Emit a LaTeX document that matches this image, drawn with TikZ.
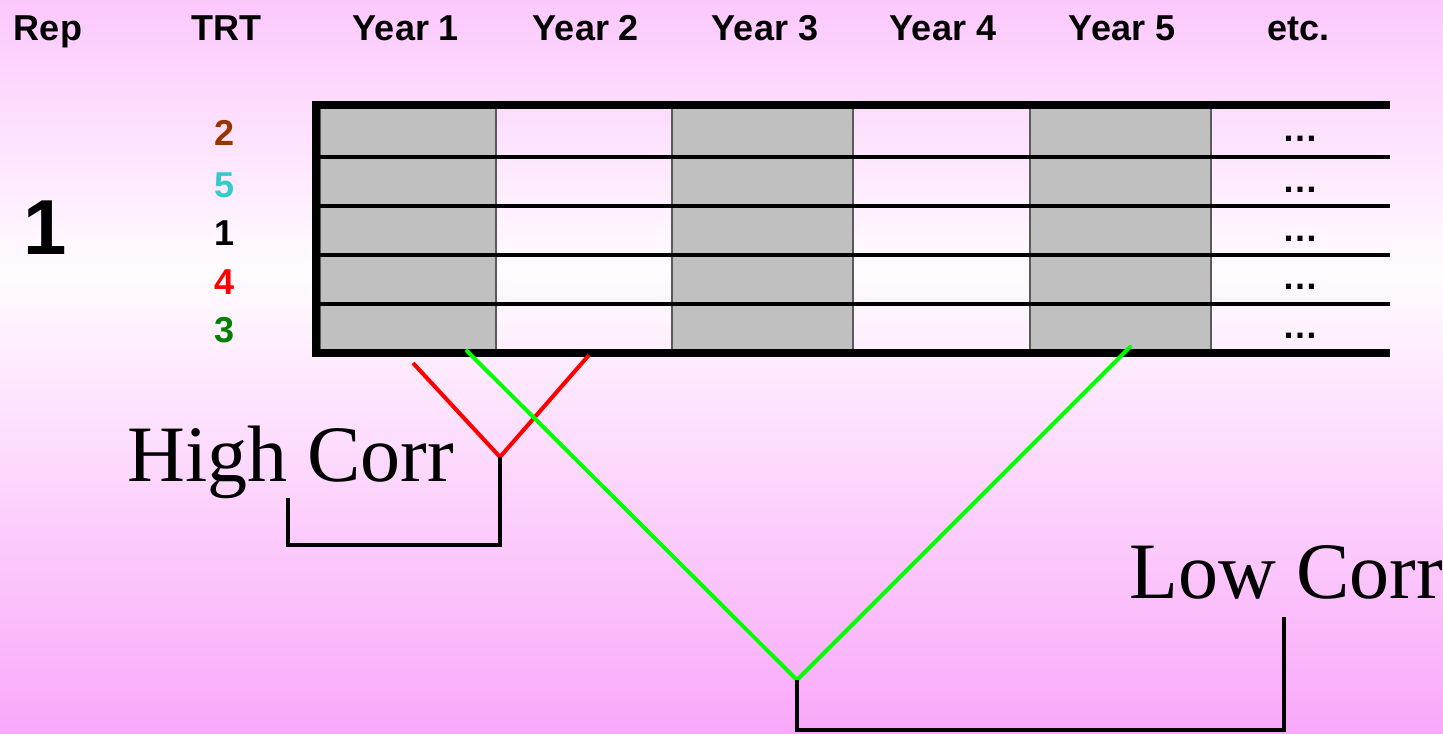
\documentclass[tikz,border=0pt]{standalone}
\usepackage{fontspec}
\setmainfont{Liberation Sans}
\newfontfamily\serifface{Liberation Serif}
\definecolor{bgtop}{RGB}{252,200,252}
\definecolor{bgmid}{RGB}{255,252,255}
\definecolor{bgbot}{RGB}{249,168,249}
\definecolor{cellgray}{RGB}{192,192,192}
\definecolor{cellborder}{RGB}{90,90,90}
\definecolor{trtbrown}{RGB}{153,51,0}
\definecolor{trtcyan}{RGB}{51,204,204}
\definecolor{trtred}{RGB}{255,0,0}
\definecolor{trtgreen}{RGB}{0,128,0}
\definecolor{linegreen}{RGB}{0,255,0}
\definecolor{linered}{RGB}{255,0,0}
\tikzset{
  hdr/.style={anchor=base, inner sep=0pt, font=\fontsize{18pt}{20pt}\selectfont\bfseries},
  trt/.style={anchor=base, inner sep=0pt, font=\fontsize{18pt}{20pt}\selectfont\bfseries},
  dots/.style={anchor=base, inner sep=0pt, font=\fontsize{18pt}{20pt}\selectfont\bfseries},
  bigrep/.style={anchor=base, inner sep=0pt, font=\fontsize{39pt}{42pt}\selectfont\bfseries},
  corr/.style={anchor=base west, inner sep=0pt, font=\serifface\fontsize{40pt}{44pt}\selectfont},
  graycell/.style={fill=cellgray, draw=cellborder, line width=0.7pt},
  rowline/.style={line width=2pt, black},
  border/.style={line width=4pt, black},
  redline/.style={line width=2pt, linered},
  greenline/.style={line width=2pt, linegreen},
  bracket/.style={line width=2pt, black}
}
\begin{document}
\begin{tikzpicture}[x=0.5pt,y=-0.5pt]
\useasboundingbox (0,0) rectangle (1443,733);
% background
\shade[top color=bgtop, bottom color=bgmid] (0,0) rectangle (1443,271);
\shade[top color=bgmid, bottom color=bgbot] (0,270) rectangle (1443,733);

% headers
\node[hdr] (hrep) at (48,41) {Rep};
\node[hdr] (htrt) at (226,41) {TRT};
\node[hdr] (hy1) at (406,41) {Year 1};
\node[hdr] (hy2) at (586,41) {Year 2};
\node[hdr] (hy3) at (765,41) {Year 3};
\node[hdr] (hy4) at (943,41) {Year 4};
\node[hdr] (hy5) at (1122,41) {Year 5};
\node[hdr] (hetc) at (1298,41) {etc.};

% rep number
\node[bigrep] (rep1) at (45,254) {1};

% treatments
\node[trt, text=trtbrown] (t2) at (225,145) {2};
\node[trt, text=trtcyan] (t5) at (225,197) {5};
\node[trt, text=black] (t1) at (225,245) {1};
\node[trt, text=trtred] (t4) at (225,294) {4};
\node[trt, text=trtgreen] (t3) at (225,342) {3};

% gray columns
\path[graycell] (320,105) rectangle (496,353);
\path[graycell] (672,105) rectangle (853,353);
\path[graycell] (1030,105) rectangle (1211,353);

% row separators
\draw[rowline] (316,157) -- (1390,157);
\draw[rowline] (316,205.5) -- (1390,205.5);
\draw[rowline] (316,254.5) -- (1390,254.5);
\draw[rowline] (316,303.5) -- (1390,303.5);

% thick border
\draw[border] (316,101) -- (316,357);
\draw[border] (312,105) -- (1390,105);
\draw[border] (312,353) -- (1390,353);

% dots in etc. column
\node[dots] (d1) at (1300,141) {…};
\node[dots] (d2) at (1300,192) {…};
\node[dots] (d3) at (1300,241) {…};
\node[dots] (d4) at (1300,289) {…};
\node[dots] (d5) at (1300,338) {…};

% high correlation
\coordinate (hL) at (413,363);
\coordinate (hA) at (500,457);
\coordinate (hR) at (589,355);
\coordinate (hB) at (500,545);
\coordinate (hC) at (288,545);
\coordinate (hD) at (288,498);
\draw[redline] (hL) -- (hA) -- (hR);
\draw[bracket] (hA) -- (hB) -- (hC) -- (hD);
\node[corr] (high) at (127,481) {High Corr};

% low correlation
\coordinate (gL) at (467,351);
\coordinate (gA) at (797,680);
\coordinate (gR) at (1130,347);
\coordinate (gB) at (797,730);
\coordinate (gC) at (1284,730);
\coordinate (gD) at (1284,617);
\draw[greenline, line cap=round] (gL) -- (gA) -- (gR);
\draw[bracket] (gA) -- (gB) -- (gC) -- (gD);
\node[corr] (low) at (1129,598) {Low Corr};
\end{tikzpicture}
\end{document}
